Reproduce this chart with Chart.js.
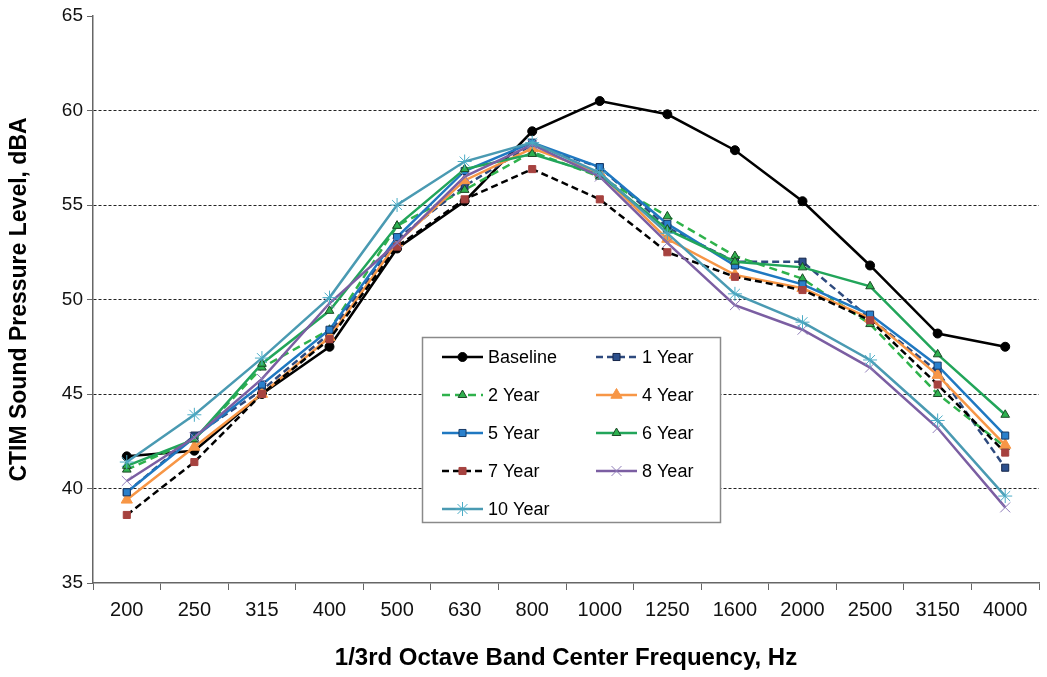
<!DOCTYPE html>
<html>
<head>
<meta charset="utf-8">
<script src="https://cdn.jsdelivr.net/npm/chart.js@4.4.1/dist/chart.umd.min.js"></script>
<style>
  html, body { margin: 0; padding: 0; background: #fff; }
  #wrap { width: 1047px; height: 677px; }
</style>
</head>
<body>
<div id="wrap"><canvas id="chart" width="1047" height="677"></canvas></div>
<script>
// --- Data ---
const categories = ['200', '250', '315', '400', '500', '630', '800', '1000', '1250', '1600', '2000', '2500', '3150', '4000'];
const seriesNames = ['Baseline', '1 Year', '2 Year', '4 Year', '5 Year', '6 Year', '7 Year', '8 Year', '10 Year'];

const baseline = [41.7, 42.0, 45.0, 47.5, 52.7, 55.2, 58.9, 60.5, 59.8, 57.9, 55.2, 51.8, 48.2, 47.5];
const year1 = [39.8, 42.8, 45.2, 48.2, 53.2, 56.0, 58.2, 57.0, 53.8, 52.0, 52.0, 49.0, 46.2, 41.1];
const year2 = [41.0, 42.6, 46.4, 48.4, 53.9, 55.8, 57.8, 56.5, 54.4, 52.3, 51.1, 48.7, 45.0, 42.2];
const year4 = [39.4, 42.2, 45.0, 48.0, 53.0, 56.3, 58.0, 56.7, 53.2, 51.3, 50.6, 49.0, 46.0, 42.3];
const year5 = [39.8, 42.7, 45.5, 48.4, 53.3, 56.8, 58.3, 57.0, 54.0, 51.8, 50.8, 49.2, 46.5, 42.8];
const year6 = [41.2, 42.6, 46.6, 49.4, 53.9, 56.9, 57.7, 56.6, 53.7, 52.0, 51.7, 50.7, 47.1, 43.9];
const year7 = [38.6, 41.4, 45.0, 47.9, 52.8, 55.3, 56.9, 55.3, 52.5, 51.2, 50.5, 48.9, 45.5, 41.9];
const year8 = [40.4, 42.7, 45.8, 49.8, 53.0, 56.5, 58.2, 56.5, 53.0, 49.7, 48.4, 46.4, 43.2, 39.0];
const year10 = [41.4, 43.9, 46.9, 50.1, 55.0, 57.3, 58.3, 56.7, 53.5, 50.3, 48.8, 46.8, 43.6, 39.6];

const yTicks = [35, 40, 45, 50, 55, 60, 65];

// --- Styles per series ---
const styles = [
    { line: '#000000', dash: [], point: 'circle', fill: '#000000', edge: '#000000', r: 4.5 },
    { line: '#2E4A7E', dash: [7, 4], point: 'rect', fill: '#2C4F8C', edge: '#16264a', r: 5 },
    { line: '#2FB24C', dash: [8, 5], point: 'triangle', fill: '#30B04E', edge: '#1d4a28', r: 5 },
    { line: '#F79646', dash: [], point: 'triangle', fill: '#F79646', edge: '#F79646', r: 6.5 },
    { line: '#1F78C1', dash: [], point: 'rect', fill: '#2A80CC', edge: '#173a66', r: 5 },
    { line: '#22A55A', dash: [], point: 'triangle', fill: '#2DB04E', edge: '#1d4a28', r: 5 },
    { line: '#000000', dash: [7, 4], point: 'rect', fill: '#A6423F', edge: '#A6423F', r: 5 },
    { line: '#7B5EA2', dash: [], point: 'crossRot', fill: '#8E7CB8', edge: '#8E7CB8', r: 7 },
    { line: '#4A9AB2', dash: [], point: 'star', fill: '#4BACC6', edge: '#4BACC6', r: 7 }
];

const allData = [baseline, year1, year2, year4, year5, year6, year7, year8, year10];

const datasets = allData.map((vals, i) => ({
    label: seriesNames[i],
    data: vals,
    borderColor: styles[i].line,
    borderWidth: 2.5,
    borderDash: styles[i].dash,
    pointStyle: styles[i].point,
    pointRadius: styles[i].r,
    pointBackgroundColor: styles[i].fill,
    pointBorderColor: styles[i].edge,
    pointBorderWidth: 1,
    tension: 0,
    order: allData.length - i
}));

// --- Legend drawn inside the plot ---
const boxLegend = {
    id: 'boxLegend',
    afterDatasetsDraw(chart) {
        const ctx = chart.ctx;
        const bx = 422, by = 337, bw = 298, bh = 185;
        ctx.save();
        ctx.fillStyle = '#ffffff';
        ctx.fillRect(bx, by, bw, bh);
        ctx.strokeStyle = '#8a8a8a';
        ctx.lineWidth = 1.5;
        ctx.strokeRect(bx + 0.5, by + 0.5, bw, bh);

        ctx.font = '18px "Liberation Sans", Arial, sans-serif';
        ctx.textBaseline = 'middle';
        ctx.textAlign = 'left';
        seriesNames.forEach((name, i) => {
            const col = i % 2, row = Math.floor(i / 2);
            const x0 = col === 0 ? 442 : 596;
            const y = 357 + row * 38;
            const s = styles[i];
            ctx.strokeStyle = s.line;
            ctx.lineWidth = 2.5;
            ctx.setLineDash(s.dash);
            ctx.beginPath();
            ctx.moveTo(x0, y);
            ctx.lineTo(x0 + 41, y);
            ctx.stroke();
            ctx.setLineDash([]);
            ctx.fillStyle = s.fill;
            ctx.strokeStyle = s.edge;
            ctx.lineWidth = 1;
            Chart.helpers.drawPoint(ctx, {
                pointStyle: s.point,
                radius: s.r,
                rotation: 0,
                borderWidth: 1
            }, x0 + 20.5, y);
            ctx.fillStyle = '#000000';
            ctx.fillText(name, x0 + 46, y + 1);
        });
        ctx.restore();
    }
};

const ctx = document.getElementById('chart').getContext('2d');
new Chart(ctx, {
    type: 'line',
    data: { labels: categories, datasets: datasets },
    options: {
        responsive: false,
        animation: false,
        layout: { padding: { left: 0, right: 2, top: 16, bottom: 0 } },
        plugins: {
            legend: { display: false },
            tooltip: { enabled: false }
        },
        scales: {
            x: {
                offset: true,
                grid: {
                    offset: true,
                    drawOnChartArea: false,
                    drawTicks: true,
                    tickLength: 7,
                    tickColor: '#666'
                },
                border: { display: true, color: '#666', width: 1.5 },
                ticks: {
                    color: '#111',
                    padding: 8,
                    maxRotation: 0,
                    autoSkip: false,
                    font: { family: '"Liberation Sans", Arial', size: 20 }
                },
                title: {
                    display: true,
                    text: '1/3rd Octave Band Center Frequency, Hz',
                    color: '#000',
                    padding: { top: 0, bottom: 4 },
                    font: { family: '"Liberation Sans", Arial', size: 24, weight: 'bold' }
                },
                afterFit(scale) { scale.height = 94; }
            },
            y: {
                min: 35,
                max: 65,
                afterBuildTicks(scale) { scale.ticks = yTicks.map(v => ({ value: v })); },
                grid: {
                    color: (c) => (c.tick && (c.tick.value === 35 || c.tick.value === 65)) ? 'rgba(0,0,0,0)' : '#222',
                    lineWidth: 1,
                    tickBorderDash: [],
                    tickColor: '#666',
                    tickLength: 6
                },
                border: { display: true, color: '#666', width: 1.5, dash: [3, 2] },
                ticks: {
                    color: '#111',
                    padding: 4,
                    font: { family: '"Liberation Sans", Arial', size: 19 }
                },
                title: {
                    display: true,
                    text: 'CTIM Sound Pressure Level, dBA',
                    color: '#000',
                    padding: { top: 6, bottom: 0 },
                    font: { family: '"Liberation Sans", Arial', size: 23, weight: 'bold' }
                },
                afterFit(scale) { scale.width = 93; }
            }
        }
    },
    plugins: [boxLegend]
});
</script>
</body>
</html>
